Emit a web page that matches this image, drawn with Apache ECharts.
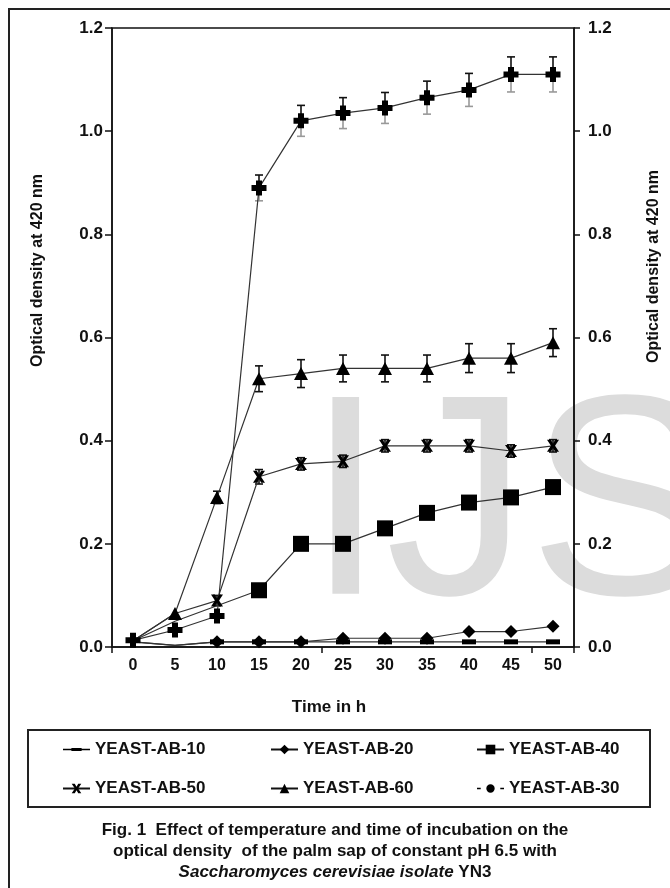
<!DOCTYPE html>
<html>
<head>
<meta charset="utf-8">
<script src="https://cdn.jsdelivr.net/npm/echarts@6/dist/echarts.min.js"></script>
<style>
html,body{margin:0;padding:0;background:#fff;}
#chart{width:670px;height:888px;}
</style>
</head>
<body>
<div id="chart"></div>
<script>
// ---- data ----
const categories = ['0','5','10','15','20','25','30','35','40','45','50'];
const seriesNames = ['YEAST-AB-10','YEAST-AB-20','YEAST-AB-40','YEAST-AB-50','YEAST-AB-60','YEAST-AB-30'];
const ab10 = [0.010, 0.003, 0.010, 0.010, 0.010, 0.010, 0.010, 0.010, 0.010, 0.010, 0.010];
const ab20 = [0.010, 0.003, 0.010, 0.010, 0.010, 0.017, 0.017, 0.017, 0.030, 0.030, 0.040];
const ab40 = [0.012, 0.050, 0.080, 0.110, 0.200, 0.200, 0.230, 0.260, 0.280, 0.290, 0.310];
const ab50 = [0.012, 0.065, 0.090, 0.330, 0.355, 0.360, 0.390, 0.390, 0.390, 0.380, 0.390];
const ab60 = [0.012, 0.065, 0.290, 0.520, 0.530, 0.540, 0.540, 0.540, 0.560, 0.560, 0.590];
const ab30 = [0.013, 0.033, 0.060, 0.890, 1.020, 1.035, 1.045, 1.065, 1.080, 1.110, 1.110];
const err50 = [0, 0, 0.010, 0.014, 0.012, 0.012, 0.012, 0.012, 0.012, 0.012, 0.012];
const err60 = [0, 0, 0.012, 0.025, 0.027, 0.026, 0.026, 0.026, 0.028, 0.028, 0.027];
const err30 = [0, 0, 0, 0.025, 0.030, 0.030, 0.030, 0.032, 0.032, 0.034, 0.034];
// points whose markers are not visible in the reference (hidden under others)
const hidden10 = [0, 1];
const hidden20 = [0, 1];
const hidden40 = [0, 1, 2];
const hidden50 = [0, 1];
const hidden60 = [0];
const hidden30 = [];
const yTickLabels = ['0.0','0.2','0.4','0.6','0.8','1.0','1.2'];

const FONT = "'Liberation Sans', Arial, sans-serif";
const INK = '#111';

const SYM_CROSS = 'path://M3.6,0h4.8v3.6h3.6v4.8h-3.6v3.6h-4.8v-3.6h-3.6v-4.8h3.6z';
const SYM_X = 'path://M0,0h3.2l1.8,3.2l1.8,-3.2h3.2l-3.3,5l3.3,5h-3.2l-1.8,-3.2l-1.8,3.2h-3.2l3.3,-5z';

function errSeries(vals, errs, lowerColor) {
  const data = vals.map((v, i) => [i, v, errs[i]]);
  return {
    type: 'custom',
    z: 1,
    silent: true,
    data: data,
    renderItem: function (params, api) {
      const i = api.value(0), v = api.value(1), e = api.value(2);
      if (!e) return null;
      const top = api.coord([i, v + e]);
      const mid = api.coord([i, v]);
      const bot = api.coord([i, v - e]);
      const hw = 4;
      const up = {stroke: '#111', lineWidth: 1.6};
      const lo = {stroke: lowerColor, lineWidth: 1.6};
      return {
        type: 'group',
        children: [
          {type: 'line', shape: {x1: top[0], y1: top[1], x2: mid[0], y2: mid[1]}, style: up},
          {type: 'line', shape: {x1: top[0] - hw, y1: top[1], x2: top[0] + hw, y2: top[1]}, style: up},
          {type: 'line', shape: {x1: bot[0], y1: bot[1], x2: mid[0], y2: mid[1]}, style: lo},
          {type: 'line', shape: {x1: bot[0] - hw, y1: bot[1], x2: bot[0] + hw, y2: bot[1]}, style: lo}
        ]
      };
    }
  };
}

function lineSeries(name, vals, symbol, size, hidden) {
  return {
    name: name,
    type: 'line',
    z: 3,
    data: vals.map((v, i) => hidden.indexOf(i) >= 0 ? {value: v, symbol: 'none'} : v),
    symbol: symbol,
    symbolSize: size,
    showAllSymbol: true,
    color: '#000',
    lineStyle: {color: '#333', width: 1.2},
    itemStyle: {color: '#000'},
    emphasis: {disabled: true},
    animation: false
  };
}

const legendText = {fontFamily: FONT, fontWeight: 'bold', fontSize: 17, color: INK};
function legendCol(left, names) {
  return {
    orient: 'vertical',
    left: left,
    top: 741,
    padding: 0,
    itemGap: 22,
    itemWidth: 27,
    itemHeight: 12,
    selectedMode: false,
    textStyle: legendText,
    lineStyle: {width: 2, color: '#111'},
    data: names
  };
}

const chart = echarts.init(document.getElementById('chart'), null, {renderer: 'canvas'});
const CAP = "bold 17px 'Liberation Sans', Arial, sans-serif";
const option = {
  animation: false,
  backgroundColor: '#fff',
  grid: {left: 112, right: 93, top: 28, bottom: 241, show: true, borderColor: '#111', borderWidth: 1.5, backgroundColor: 'transparent'},
  legend: [
    legendCol(62, [{name: 'YEAST-AB-10', icon: 'path://M0,4.3h29v1.4h-29z M9,3.4h11v3.2h-11z'}, 'YEAST-AB-50']),
    legendCol(270, ['YEAST-AB-20', 'YEAST-AB-60']),
    legendCol(476, ['YEAST-AB-40', {name: 'YEAST-AB-30', icon: 'path://M0,4.3h4v1.4h-4z M25,4.3h4v1.4h-4z M10,5a4.5,4.5 0 1,0 9,0a4.5,4.5 0 1,0 -9,0z'}])
  ],
  xAxis: {
    type: 'category',
    data: categories,
    boundaryGap: true,
    name: 'Time in h',
    nameLocation: 'middle',
    nameGap: 52,
    nameTextStyle: {fontFamily: FONT, fontWeight: 'bold', fontSize: 17, color: INK, padding: [0, 28, 0, 0]},
    axisLine: {lineStyle: {color: '#111', width: 1.5}},
    axisTick: {show: true, interval: 4, length: 6, lineStyle: {color: '#111', width: 1.5}},
    axisLabel: {interval: 0, margin: 11, fontFamily: FONT, fontWeight: 'bold', fontSize: 16, color: INK},
    splitLine: {show: false}
  },
  yAxis: [
    {
      type: 'value', min: 0, max: 1.2, interval: 0.2, position: 'left',
      name: 'Optical density at 420 nm',
      nameLocation: 'middle',
      nameGap: 66,
      nameTextStyle: {fontFamily: FONT, fontWeight: 'bold', fontSize: 16, color: INK, padding: [0, 0, 0, 134]},
      axisLine: {show: true, lineStyle: {color: '#111', width: 1.5}},
      axisTick: {show: true, length: 7, lineStyle: {color: '#111', width: 1.5}},
      axisLabel: {margin: 9, fontFamily: FONT, fontWeight: 'bold', fontSize: 17, color: INK,
        formatter: (v) => yTickLabels[Math.round(v / 0.2)]},
      splitLine: {show: false}
    },
    {
      type: 'value', min: 0, max: 1.2, interval: 0.2, position: 'right',
      name: 'Optical density at 420 nm',
      nameLocation: 'middle',
      nameGap: 72,
      nameTextStyle: {fontFamily: FONT, fontWeight: 'bold', fontSize: 16, color: INK, padding: [0, 0, 0, 142]},
      axisLine: {show: true, lineStyle: {color: '#111', width: 1.5}},
      axisTick: {show: true, length: 6, lineStyle: {color: '#111', width: 1.5}},
      axisLabel: {margin: 14, fontFamily: FONT, fontWeight: 'bold', fontSize: 17, color: INK,
        formatter: (v) => yTickLabels[Math.round(v / 0.2)]},
      splitLine: {show: false}
    }
  ],
  graphic: [
    {type: 'text', z: -10, silent: true, left: 306, top: 372,
      style: {text: 'IJSER', font: "286px 'Liberation Sans', Arial, sans-serif", fill: '#dcdcdc'}},
    {type: 'rect', z: 10, silent: true, shape: {x: 9, y: 9, width: 700, height: 900},
      style: {fill: 'none', stroke: '#222', lineWidth: 2}},
    {type: 'rect', z: 10, silent: true, shape: {x: 28, y: 730, width: 622, height: 77},
      style: {fill: 'none', stroke: '#222', lineWidth: 2}},
    {type: 'text', z: 10, left: 'center', top: 822,
      style: {text: 'Fig. 1  Effect of temperature and time of incubation on the', font: CAP, fill: INK, textAlign: 'center'}},
    {type: 'text', z: 10, left: 'center', top: 843,
      style: {text: 'optical density  of the palm sap of constant pH 6.5 with', font: CAP, fill: INK, textAlign: 'center'}},
    {type: 'text', z: 10, left: 'center', top: 864,
      style: {text: '{it|Saccharomyces cerevisiae isolate} YN3', font: CAP, fill: INK, textAlign: 'center',
        rich: {it: {fontStyle: 'italic', fontWeight: 'bold', fontSize: 17, fontFamily: FONT, fill: INK}}}}
  ],
  series: [
    errSeries(ab50, err50, '#111'),
    errSeries(ab60, err60, '#111'),
    errSeries(ab30, err30, '#999'),
    lineSeries('YEAST-AB-10', ab10, 'rect', [14, 5], hidden10),
    lineSeries('YEAST-AB-20', ab20, 'diamond', [13, 13], hidden20),
    lineSeries('YEAST-AB-40', ab40, 'rect', [16, 16], hidden40),
    lineSeries('YEAST-AB-50', ab50, SYM_X, [12, 12], hidden50),
    lineSeries('YEAST-AB-60', ab60, 'triangle', [14, 13], hidden60),
    lineSeries('YEAST-AB-30', ab30, SYM_CROSS, [15, 15], hidden30)
  ]
};
chart.setOption(option);
</script>
</body>
</html>
